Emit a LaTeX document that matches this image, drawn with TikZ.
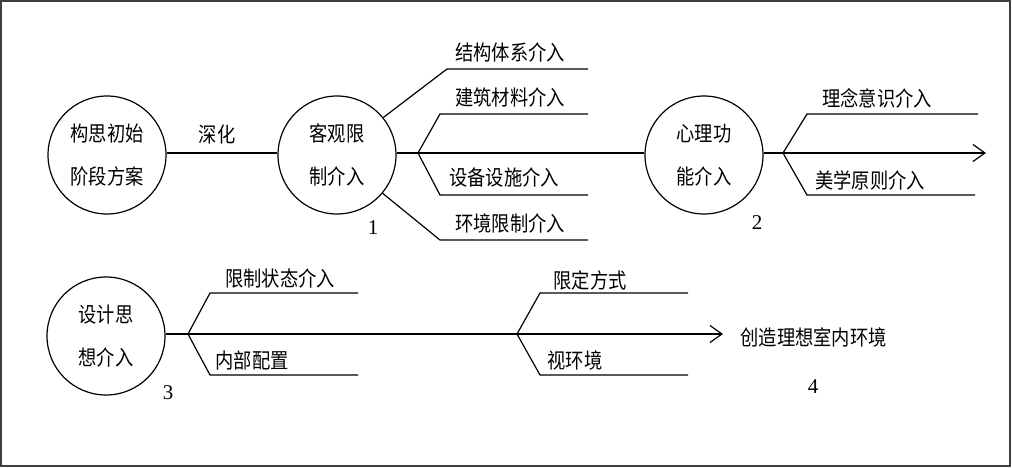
\documentclass[tikz,border=0pt]{standalone}
\usepackage{fontspec}
\setmainfont{Liberation Serif}
\newfontfamily\cjk[FakeStretch=0.87]{Noto Sans CJK SC}
\usetikzlibrary{arrows.meta}
\tikzset{
	stage/.style={draw,circle,minimum size=118pt,inner sep=0pt,align=center,
		font=\cjk\fontsize{21}{43}\selectfont},
	tag/.style={inner sep=0pt,font=\cjk\fontsize{21}{24}\selectfont},
	num/.style={inner sep=0pt,font=\fontsize{21}{24}\selectfont},
	flow/.style={-{Straight Barb[length=12pt,width=17pt,line width=1.2pt]}}
}

\begin{document}
\begin{tikzpicture}[x=1pt,y=-1pt,line width=1.2pt]
	\useasboundingbox (0,0) rectangle (1012,468);
	\draw[line width=2pt,black!75] (1,1) rectangle (1010,466);

	% first row
	\node [stage] (plan) at (107,155) {构思初始\\阶段方案};
	\node [stage] (limit) at (337,155) {客观限\\制介入};
	\node [stage] (psych) at (704,155) {心理功\\能介入};
	\node [tag] (deep) at (217,135) {深化};
	\draw (plan.east |- 0,153) -- (limit.west |- 0,153);
	\coordinate (endA) at (986,153);
	\draw [flow] (psych.east |- 0,153) -- (endA);
	\draw (limit.east |- 0,153) -- (psych.west |- 0,153);

	\coordinate (forkA) at (418,153);
	\draw (limit.39) -- (447,69) -- (588,69);
	\draw (forkA) -- (440,114) -- (588,114);
	\draw (forkA) -- (440,195) -- (588,195);
	\draw (limit.-40) -- (440,240) -- (588,240);
	\node [tag] (struct) at (510,52) {结构体系介入};
	\node [tag] (mater) at (510,97) {建筑材料介入};
	\node [tag] (equip) at (504,177) {设备设施介入};
	\node [tag] (envir) at (510,223) {环境限制介入};
	\node [num] (one) at (373,228) {1};

	\coordinate (forkB) at (783,153);
	\draw (forkB) -- (807,114) -- (978,114);
	\draw (forkB) -- (807,195) -- (975,195);
	\node [tag] (concept) at (877,98) {理念意识介入};
	\node [tag] (beauty) at (870,180) {美学原则介入};
	\node [num] (two) at (757,223) {2};

	% second row
	\node [stage] (idea) at (106,336) {设计思\\想介入};
	\node [tag,anchor=west] (goal) at (740,337) {创造理想室内环境};
	\coordinate (endB) at (723,334);
	\draw [flow] (idea.east |- endB) -- (endB);

	\coordinate (forkC) at (188,334);
	\draw (forkC) -- (210,293) -- (358,293);
	\draw (forkC) -- (210,375) -- (358,375);
	\node [tag] (state) at (280,278) {限制状态介入};
	\node [tag] (inner) at (252,360) {内部配置};
	\node [num] (three) at (168,393) {3};

	\coordinate (forkD) at (517,334);
	\draw (forkD) -- (540,293) -- (688,293);
	\draw (forkD) -- (540,375) -- (688,375);
	\node [tag] (mode) at (590,280) {限定方式};
	\node [tag] (view) at (575,360) {视环境};
	\node [num] (four) at (813,387) {4};
\end{tikzpicture}
\end{document}
